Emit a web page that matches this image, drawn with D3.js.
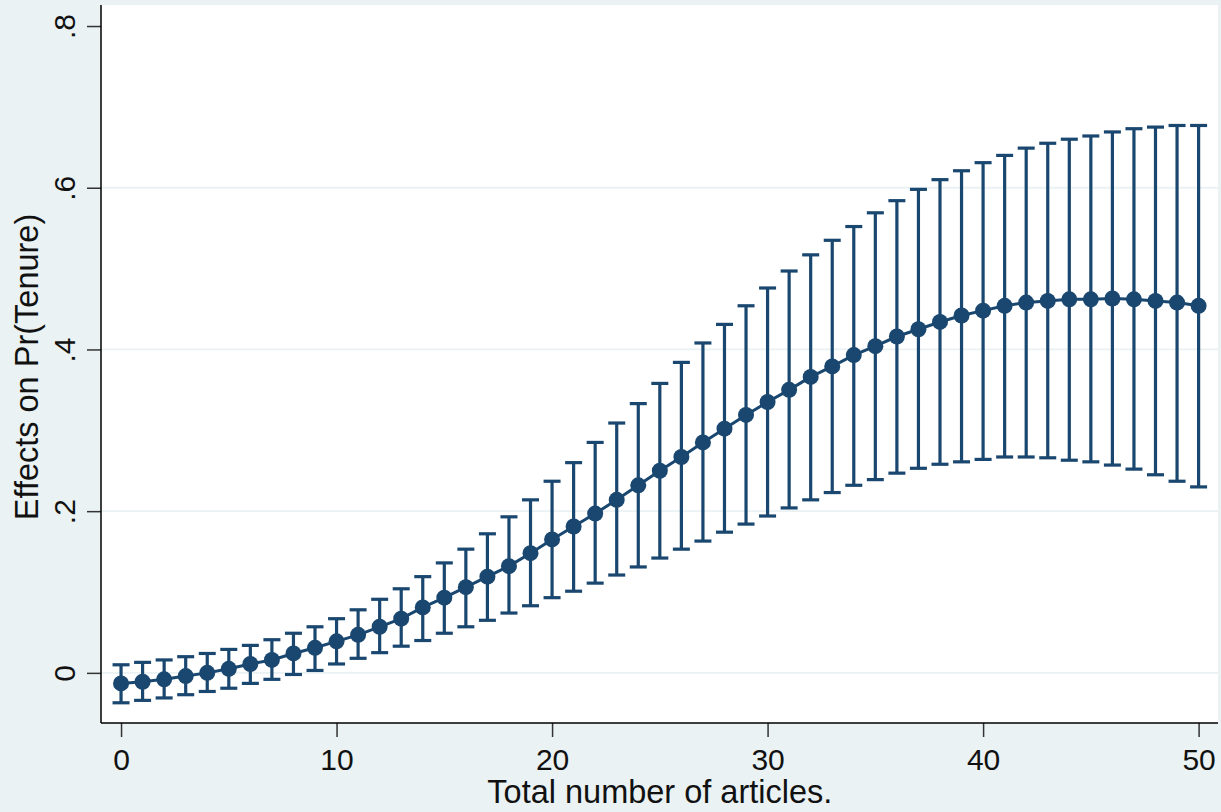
<!DOCTYPE html>
<html><head><meta charset="utf-8">
<script src="https://cdn.jsdelivr.net/npm/d3@7"></script>
<style>html,body{margin:0;padding:0;background:#EAF2F3;}svg{display:block;}</style>
</head><body>
<script>
const articles = d3.range(0, 51);
const effect = [-0.013,-0.011,-0.008,-0.004,0.000,0.005,0.011,0.016,0.024,0.031,0.039,0.047,0.057,0.067,0.081,0.093,0.106,0.119,0.132,0.148,0.165,0.181,0.197,0.214,0.232,0.250,0.267,0.285,0.302,0.319,0.335,0.350,0.366,0.379,0.393,0.404,0.416,0.425,0.434,0.442,0.448,0.454,0.458,0.460,0.462,0.462,0.463,0.462,0.460,0.458,0.454];
const lower = [-0.037,-0.034,-0.031,-0.027,-0.023,-0.019,-0.013,-0.008,-0.002,0.003,0.011,0.018,0.025,0.033,0.040,0.049,0.057,0.065,0.074,0.083,0.093,0.101,0.111,0.121,0.131,0.142,0.153,0.163,0.174,0.184,0.194,0.204,0.214,0.223,0.232,0.239,0.247,0.253,0.258,0.261,0.264,0.267,0.267,0.266,0.263,0.261,0.257,0.252,0.245,0.237,0.230];
const upper = [0.010,0.013,0.016,0.020,0.024,0.029,0.034,0.041,0.049,0.057,0.067,0.078,0.091,0.104,0.119,0.136,0.153,0.172,0.193,0.214,0.237,0.260,0.285,0.309,0.333,0.358,0.384,0.408,0.431,0.454,0.476,0.497,0.517,0.535,0.552,0.569,0.584,0.598,0.610,0.621,0.631,0.640,0.649,0.655,0.660,0.664,0.669,0.673,0.675,0.677,0.677];
const xTicks = [0,10,20,30,40,50];
const yTicks = [0,0.2,0.4,0.6,0.8];
const yTickLabels = ["0",".2",".4",".6",".8"];
const gridTicks = [0,0.2,0.4,0.6];

const W = 1221, H = 812;
const plot = {left:101, right:1218, top:5, bottom:723};
const color = "#1a476f";
const font = "'Liberation Sans', Arial, Helvetica, sans-serif";

const svg = d3.select("body").append("svg").attr("width", W).attr("height", H);
svg.append("rect").attr("width", W).attr("height", H).attr("fill", "#EAF2F3");

const x = d3.scaleLinear().domain([-0.93, 50.9]).range([plot.left, plot.right]);
const y = d3.scaleLinear().domain([-0.062, 0.826]).range([plot.bottom, plot.top]);

svg.append("rect").attr("x", plot.left).attr("y", plot.top)
  .attr("width", plot.right - plot.left).attr("height", plot.bottom - plot.top)
  .attr("fill", "#ffffff");

// gridlines
svg.append("g").selectAll("line").data(gridTicks).join("line")
  .attr("x1", plot.left).attr("x2", plot.right)
  .attr("y1", d => y(d)).attr("y2", d => y(d))
  .attr("stroke", "#EAF2F3").attr("stroke-width", 1.8);

// axes
const yAxis = d3.axisLeft(y).tickValues(yTicks).tickFormat((d,i) => yTickLabels[i]).tickSize(14).tickSizeOuter(0);
const gy = svg.append("g").attr("transform", `translate(${plot.left},0)`).call(yAxis);
gy.select(".domain").remove();
gy.append("line").attr("x1",0).attr("x2",0).attr("y1",plot.top).attr("y2",plot.bottom).attr("stroke","#000").attr("stroke-width",1.5);
gy.selectAll(".tick line").attr("stroke","#333").attr("stroke-width",1.5);
gy.selectAll(".tick text")
  .attr("font-family", font).attr("font-size", 30).attr("fill", "#111")
  .attr("text-anchor","middle").attr("x", null).attr("dy", "0")
  .attr("transform", "translate(-26,0) rotate(-90)");

const xAxis = d3.axisBottom(x).tickValues(xTicks).tickSize(14).tickSizeOuter(0).tickPadding(12);
const gx = svg.append("g").attr("transform", `translate(0,${plot.bottom})`).call(xAxis);
gx.select(".domain").remove();
gx.append("line").attr("x1",plot.left).attr("x2",plot.right).attr("y1",0).attr("y2",0).attr("stroke","#000").attr("stroke-width",1.5);
gx.selectAll(".tick line").attr("stroke","#333").attr("stroke-width",1.5);
gx.selectAll(".tick text").attr("font-family", font).attr("font-size", 30).attr("fill","#111");

// axis titles
svg.append("text").attr("x", (x(0)+x(50))/2).attr("y", 803)
  .attr("text-anchor","middle").attr("font-family",font).attr("font-size",32.5).attr("fill","#111")
  .text("Total number of articles.");
svg.append("text").attr("transform", `translate(38,367) rotate(-90)`)
  .attr("text-anchor","middle").attr("font-family",font).attr("font-size",32.5).attr("fill","#111")
  .text("Effects on Pr(Tenure)");

// error bars
const g = svg.append("g");
const capW = 8.5;
g.selectAll("line.eb").data(articles).join("line").attr("class","eb")
  .attr("x1", d => x(d)).attr("x2", d => x(d))
  .attr("y1", (d,i) => y(lower[i])).attr("y2", (d,i) => y(upper[i]))
  .attr("stroke", color).attr("stroke-width", 3.2);
g.selectAll("line.cu").data(articles).join("line").attr("class","cu")
  .attr("x1", d => x(d)-capW).attr("x2", d => x(d)+capW)
  .attr("y1", (d,i) => y(upper[i])).attr("y2", (d,i) => y(upper[i]))
  .attr("stroke", color).attr("stroke-width", 3.2);
g.selectAll("line.cl").data(articles).join("line").attr("class","cl")
  .attr("x1", d => x(d)-capW).attr("x2", d => x(d)+capW)
  .attr("y1", (d,i) => y(lower[i])).attr("y2", (d,i) => y(lower[i]))
  .attr("stroke", color).attr("stroke-width", 3.2);

// connecting line
const line = d3.line().x((d,i) => x(articles[i])).y(d => y(d));
g.append("path").attr("d", line(effect)).attr("fill","none").attr("stroke",color).attr("stroke-width",3);

// points
g.selectAll("circle").data(effect).join("circle")
  .attr("cx", (d,i) => x(articles[i])).attr("cy", d => y(d)).attr("r", 8)
  .attr("fill", color);
</script>
</body></html>
